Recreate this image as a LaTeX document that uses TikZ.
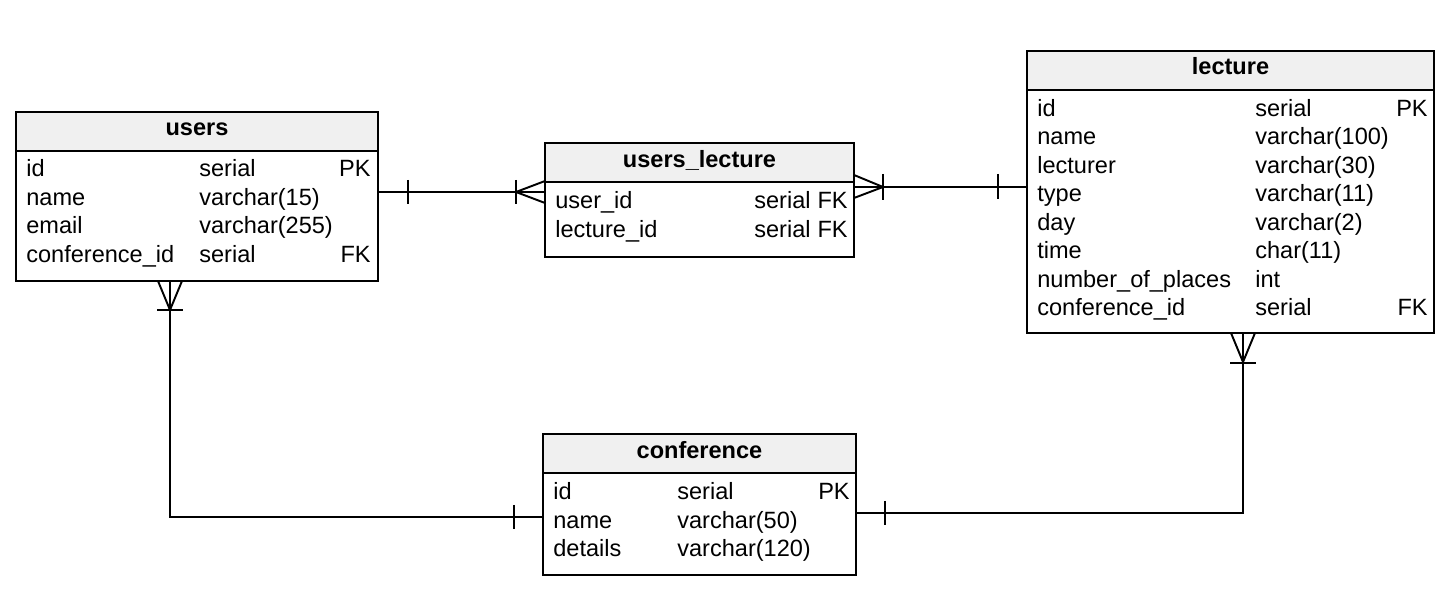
\documentclass[tikz,border=0pt]{standalone}
\usepackage{fontspec}
\setmainfont{Liberation Sans}
\usetikzlibrary{fit}
\definecolor{headgray}{HTML}{F0F0F0}

\begin{document}
\begin{tikzpicture}[x=0.02cm, y=-0.02cm,
  tbl/.style={draw, line width=1.1pt, inner sep=0pt},
  head/.style={draw, line width=1.1pt, inner sep=0pt, fill=headgray},
  title/.style={anchor=base, inner sep=0pt, font=\fontsize{13.4}{16}\selectfont\bfseries},
  cell/.style={anchor=base west, inner sep=0pt, font=\fontsize{13.4}{16}\selectfont},
  key/.style={anchor=base east, inner sep=0pt, font=\fontsize{13.4}{16}\selectfont},
  conn/.style={line width=1.1pt}]
\useasboundingbox (0,0) rectangle (1450,614);

% users
\node[tbl, fit={(16,112) (378,281)}] (users) {};
\node[head, fit={(16,112) (378,151)}] (usersHead) {};
\node[title] (usersTitle) at (197,136) {users};
\node[cell] (u1n) at (26,177) {id};
\node[cell] (u1t) at (199,177) {serial};
\node[key] (u1k) at (371,177) {PK};
\node[cell] (u2n) at (26,205.5) {name};
\node[cell] (u2t) at (199,205.5) {varchar(15)};
\node[cell] (u3n) at (26,234) {email};
\node[cell] (u3t) at (199,234) {varchar(255)};
\node[cell] (u4n) at (26,262.5) {conference\_id};
\node[cell] (u4t) at (199,262.5) {serial};
\node[key] (u4k) at (371,262.5) {FK};

% users_lecture
\node[tbl, fit={(545,143) (854,257)}] (ul) {};
\node[head, fit={(545,143) (854,182)}] (ulHead) {};
\node[title] (ulTitle) at (699.5,168) {users\_lecture};
\node[cell] (ul1n) at (555,209) {user\_id};
\node[cell] (ul1t) at (754,209) {serial};
\node[key] (ul1k) at (848,209) {FK};
\node[cell] (ul2n) at (555,237.5) {lecture\_id};
\node[cell] (ul2t) at (754,237.5) {serial};
\node[key] (ul2k) at (848,237.5) {FK};

% lecture
\node[tbl, fit={(1027,51) (1434,333)}] (lecture) {};
\node[head, fit={(1027,51) (1434,90)}] (lectureHead) {};
\node[title] (lectureTitle) at (1230.5,75) {lecture};
\node[cell] (l1n) at (1037,116.5) {id};
\node[cell] (l1t) at (1255,116.5) {serial};
\node[key] (l1k) at (1428,116.5) {PK};
\node[cell] (l2n) at (1037,145) {name};
\node[cell] (l2t) at (1255,145) {varchar(100)};
\node[cell] (l3n) at (1037,173.5) {lecturer};
\node[cell] (l3t) at (1255,173.5) {varchar(30)};
\node[cell] (l4n) at (1037,202) {type};
\node[cell] (l4t) at (1255,202) {varchar(11)};
\node[cell] (l5n) at (1037,230.5) {day};
\node[cell] (l5t) at (1255,230.5) {varchar(2)};
\node[cell] (l6n) at (1037,259) {time};
\node[cell] (l6t) at (1255,259) {char(11)};
\node[cell] (l7n) at (1037,287.5) {number\_of\_places};
\node[cell] (l7t) at (1255,287.5) {int};
\node[cell] (l8n) at (1037,316) {conference\_id};
\node[cell] (l8t) at (1255,316) {serial};
\node[key] (l8k) at (1428,316) {FK};

% conference
\node[tbl, fit={(543,434) (856,575)}] (conference) {};
\node[head, fit={(543,434) (856,473)}] (conferenceHead) {};
\node[title] (conferenceTitle) at (699.5,459) {conference};
\node[cell] (c1n) at (553,500) {id};
\node[cell] (c1t) at (677,500) {serial};
\node[key] (c1k) at (850,500) {PK};
\node[cell] (c2n) at (553,528.5) {name};
\node[cell] (c2t) at (677,528.5) {varchar(50)};
\node[cell] (c3n) at (553,557) {details};
\node[cell] (c3t) at (677,557) {varchar(120)};

% connector ends
\coordinate (uToUl) at (378,192);
\coordinate (ulFromU) at (545,192);
\coordinate (ulToL) at (854,187);
\coordinate (lFromUl) at (1027,187);
\coordinate (uToC) at (170,281);
\coordinate (cFromU) at (543,517);
\coordinate (cToL) at (856,513);
\coordinate (lFromC) at (1243,333);

% users -- users_lecture
\draw[conn] (uToUl) -- (ulFromU);
\draw[conn] (uToUl) ++(30,-12) -- ++(0,24);
\draw[conn] (ulFromU) ++(0,-11) -- ++(-29,11) -- ++(29,11);
\draw[conn] (ulFromU) ++(-29,-12) -- ++(0,24);

% users_lecture -- lecture
\draw[conn] (ulToL) -- (lFromUl);
\draw[conn] (ulToL) ++(0,-12) -- ++(29,12) -- ++(-29,11);
\draw[conn] (ulToL) ++(29,-13) -- ++(0,26);
\draw[conn] (lFromUl) ++(-29,-13) -- ++(0,25);

% users -- conference
\draw[conn] (uToC) |- (cFromU);
\draw[conn] (uToC) ++(-12,0) -- ++(12,29) -- ++(12,-29);
\draw[conn] (uToC) ++(-13,29) -- ++(26,0);
\draw[conn] (cFromU) ++(-29,-12) -- ++(0,24);

% conference -- lecture
\draw[conn] (cToL) -| (lFromC);
\draw[conn] (cToL) ++(29,-12) -- ++(0,24);
\draw[conn] (lFromC) ++(-12,0) -- ++(12,29) -- ++(12,-29);
\draw[conn] (lFromC) ++(-13,30) -- ++(26,0);
\end{tikzpicture}
\end{document}
